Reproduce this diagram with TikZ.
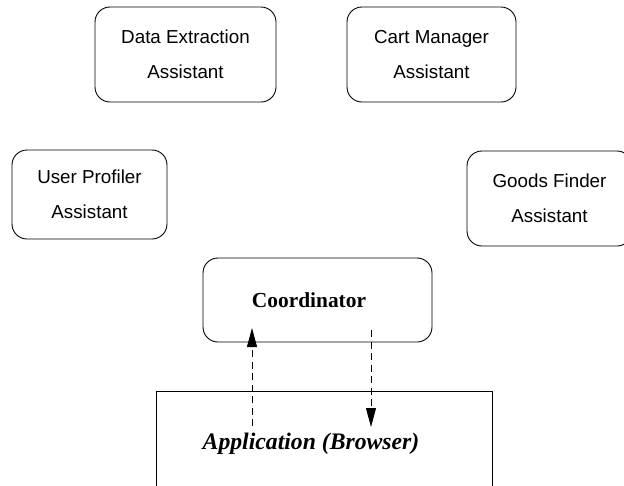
\documentclass[tikz,border=0pt]{standalone}
\usepackage{fontspec}
\setmainfont{Liberation Serif}
\newfontfamily\arialfont{Liberation Sans}
\usetikzlibrary{arrows.meta}
\tikzset{
  agent/.style={draw, line width=0.9pt, rounded corners=15pt, inner sep=0pt,
    align=center, font=\arialfont\fontsize{18.8}{35}\selectfont},
  flow/.style={line width=0.9pt, dash pattern=on 7pt off 4.5pt,
    -{Triangle[length=19pt,width=10pt]}},
  plain/.style={line width=0.9pt}
}
\begin{document}
\begin{tikzpicture}[x=1pt,y=-1pt]
\useasboundingbox (0,0) rectangle (624,485);
\clip (0,0) rectangle (624,485);
\node[agent, minimum width=181pt, minimum height=95pt] (de) at (185.5,54.5) {Data Extraction\\Assistant};
\node[agent, minimum width=169pt, minimum height=95pt] (cm) at (431.5,54.5) {Cart Manager\\Assistant};
\node[agent, minimum width=155pt, minimum height=89pt] (up) at (89.5,194.5) {User Profiler\\Assistant};
\node[agent, minimum width=165pt, minimum height=95pt] (gf) at (549.5,198.5) {Goods Finder\\Assistant};
\node[draw, line width=0.9pt, rounded corners=15pt, minimum width=229pt, minimum height=84pt] (coord) at (317.5,300) {};
\node[font=\fontsize{21.4}{24}\selectfont\bfseries] (coordtext) at (309,300) {Coordinator};
\coordinate (appTL) at (156,391);
\coordinate (appTR) at (492,391);
\coordinate (appBL) at (156,486);
\coordinate (appBR) at (492,486);
\draw[plain] (appBL) -- (appTL) -- (appTR) -- (appBR);
\node[font=\fontsize{23.7}{26}\selectfont\bfseries\itshape] (app) at (311,443.6) {Application (Browser)};
\coordinate (upstart) at (252,426);
\coordinate (upend) at (252,328);
\coordinate (dnstart) at (371,330);
\coordinate (dnend) at (371,427);
\draw[flow] (upstart) -- (upend);
\draw[flow] (dnstart) -- (dnend);
\end{tikzpicture}
\end{document}
